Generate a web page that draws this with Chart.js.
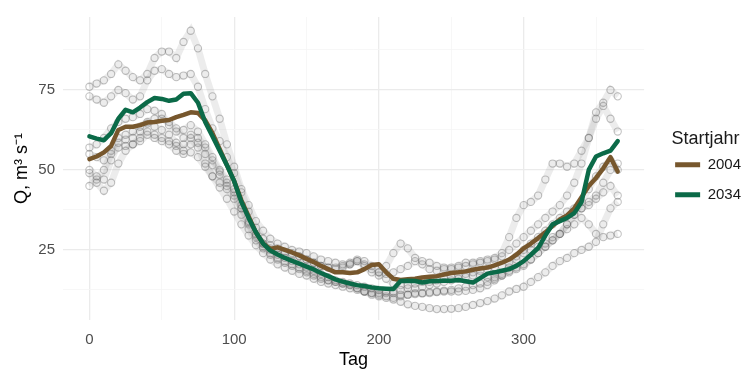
<!DOCTYPE html>
<html><head><meta charset="utf-8">
<script src="https://cdn.jsdelivr.net/npm/chart.js@4"></script>
<style>html,body{margin:0;padding:0;background:#fff}</style>
</head><body>
<canvas id="c" width="745" height="371"></canvas>
<script>
// Day of year (x), every 5 days
const days = [0,5,10,15,20,25,30,35,40,45,50,55,60,65,70,75,80,85,90,95,100,105,110,115,120,125,130,135,140,145,150,155,160,165,170,175,180,185,190,195,200,205,210,215,220,225,230,235,240,245,250,255,260,265,270,275,280,285,290,295,300,305,310,315,320,325,330,335,340,345,350,355,360,365];

// Mean discharge per start year (m³ s⁻¹)
const q2004 = [53.4,54.2,55.5,57.5,62.5,63.5,63.5,64,64.8,65,
  65.4,65.6,66.5,67.2,68,67.8,65.5,61.5,56.5,51.5,
  46.5,40.5,35.5,30.5,27,25.3,25.8,25,24.2,23.3,
  22.2,21.2,20,19,18,18,17.8,18,19,20.3,
  20.5,18,16,15.6,15.8,16,16.4,16.6,16.8,17.3,
  17.8,18,18.3,18.8,19.2,19.5,20.2,21,22,23.5,
  25.5,27,28.7,30.5,32.5,34.5,35.8,38,41.5,45,
  47.5,50.5,54,49.5];
const q2034 = [60.5,59.8,59.3,61.5,66,68.8,68,69.5,71.2,72.5,
  72.2,71.6,72,73.8,74,71,65,60.5,56,51.5,
  46.5,40,35,30.5,27,24.8,23.6,22.5,21.6,20.7,
  19.8,18.9,17.8,16.8,15.8,15.1,14.5,14,13.7,13.3,
  13,12.9,12.8,15.3,15.4,15.3,14.8,15.2,15.3,15.4,
  15.4,15.6,15.2,14.8,16.2,17.6,18,18.5,19,20,
  21.5,23.5,25.6,29.5,33,34,35,36.5,40,50,
  54.2,55.2,56,59];

// Individual ensemble members (grey circles)
const memberA = [76,77,78,80,83,81,79,78,80,85,
  87,87,85,90,93.5,88,80,73,66,58,
  51,44,39,34,31,28.5,27,26,25,24.5,
  24,23,22,21.5,21,20.5,20.5,21.5,20.5,19,
  18,20,24,27,25.5,22.5,21.5,21,20,19.5,
  19,19.5,20,20.5,21,21.5,22,23,25,27,
  29,31,33,35,37,39,42,46,52,60,
  68,71,75,73];
const memberB = [73,72,71,73,75,74,72,73,78,81,
  81.5,80,79,79.5,80,76,69,63,59,54,
  49,43,37,32,28.5,26.5,25.5,24.5,24,23,
  22,21,20,19.5,19.5,20,21,21.5,20,18,
  17,17.5,18,19,20,21.5,20.5,19,18.5,19,
  19.5,20,21,21,21.5,22,22.5,24,29,35,
  39,40,42,47,52,52,51,52,56,60,
  66,70,66,62];
const memberC = [57,58,60,63,65,66,66.5,67.5,69,68.5,
  67.5,64,62,62.5,64,62,58,54,50,47,
  44,39,34,30,27,25,23.5,22.5,21.5,20.5,
  19.5,18.5,17.5,16.5,15.5,15,14.5,14,13.5,13,
  12.5,12,11.5,11,11,11.2,11.4,11.5,11.8,12,
  12,12,12.2,12.5,13,14,15.5,17,18.5,19.5,
  20.5,22,24,26,28,30,33,36,38,40,
  42,46,50,52];
const memberD = [50,48,47,53,58.5,59.5,60,62,64.5,63.5,
  62.5,61,58.5,56,58,58.5,55,51.5,48.5,45,
  41,36,31.5,28,25.5,23.5,22,21,20,19,
  18,17,16,15.5,15,14.5,14,13,12,11,
  10.5,10,9.5,8.8,8,7.5,7.2,6.8,6.5,6.5,
  6.6,6.8,7.2,7.8,8.4,9,9.8,10.8,12,12.8,
  13.5,15,16.5,18,20,21.5,22.5,24,25,26,
  27.5,33,38,40];
const memberE = [49,46,43.5,46,52,56,58,59,61,60,
  59,58,56,55,55.5,54,51,48,44.5,41,
  37,33,29.5,26.5,24,22,20.5,19.5,18.5,17.5,
  17,16,15,14.5,14,13.5,13,12.5,12,11.5,
  11.5,11.5,12,12.5,13,13,13.5,14,14.5,15,
  15.5,16,16.5,17,17,16.5,16.5,17.5,19.5,22,
  24,25,26,27,29,30,31.5,33,35,33,
  30,29,29.5,30];
const memberF = [55,54,53,56,60,61,62,63.5,65,66,
  66,65,63,60,61,60,57,53,49.5,46,
  43,38,33,29,26,24,22.5,21.5,20.5,19.5,
  18.5,17.5,16.5,15.5,15,14.5,14,13,12,11.5,
  11,10.5,10,10.5,11,11.5,11.5,11.8,12,12.3,
  12.5,13,13.5,14,14.5,15,16,17,18,19,
  20,22,24,26,28,30,33,36,40,44,
  48,51,53,50];
const memberG = [45,47,50,55,57,57.5,58,60,62,61,
  60,59,57.5,58,60,57,52,48,46,44,
  42,38,33.5,29.5,27,25.5,24.5,24,23.5,23,
  22,21,20,19.5,19,19.5,20.5,22,21.5,20,
  18,16,14.5,14,14,14.5,15,15,15.5,16,
  16.5,17,17.5,18,18.5,19,19.5,20,21,23,
  25,27,29,31,33,35,37,38,38,39,
  41,43,45,42];

const xTicks = [0,50,100,150,200,250,300,350];
const xLabelled = [0,100,200,300];
const yTicks = [12.5,25,37.5,50,62.5,75,87.5];
const yLabelled = [25,50,75];

const members = [memberA,memberB,memberC,memberD,memberE,memberF,memberG];

Chart.defaults.font.family = "'Liberation Sans', Arial, Helvetica, sans-serif";

const toXY = arr => days.map((d,i)=>({x:d, y:arr[i]}));

const datasets = [
  {label:'2004', data:toXY(q2004), borderColor:'#77572d', backgroundColor:'#77572d',
   borderWidth:4.5, pointRadius:0, tension:0, order:1, borderJoinStyle:'round', borderCapStyle:'round'},
  {label:'2034', data:toXY(q2034), borderColor:'#0b6a48', backgroundColor:'#0b6a48',
   borderWidth:4.5, pointRadius:0, tension:0, order:0, borderJoinStyle:'round', borderCapStyle:'round'}
];
members.forEach((m,k)=>{
  datasets.push({label:'m'+k, data:toXY(m), showLine:true,
    borderColor:'rgba(140,140,140,0.17)', borderWidth:7, tension:0,
    pointRadius:3.6, pointBorderWidth:1.1, pointBorderColor:'rgba(90,90,90,0.36)',
    pointBackgroundColor:'rgba(255,255,255,0)', order:2});
});

const legendShift = {id:'legendShift', afterLayout(chart){
  const l = chart.legend; if(!l) return;
  l.left += 16; l.right += 16; l.top += 5; l.bottom += 5;
}};

new Chart(document.getElementById('c'), {
  type:'line',
  data:{datasets},
  options:{
    responsive:false, animation:false, devicePixelRatio:1,
    layout:{padding:{top:13,right:10,bottom:0,left:0}},
    plugins:{
      tooltip:{enabled:false},
      legend:{
        display:true, position:'right', align:'center', fullSize:false,
        title:{display:true, text:'Startjahr', position:'center', color:'#1a1a1a',
               font:{size:18, lineHeight:1}, padding:{top:0,bottom:-5.5}},
        labels:{boxWidth:25, boxHeight:5, padding:15, color:'#1a1a1a', font:{size:15},
          generateLabels(chart){
            const items = Chart.defaults.plugins.legend.labels.generateLabels(chart);
            items.forEach(i=>{ i.lineWidth = 0; });
            return items;
          },
          filter:(item)=> item.datasetIndex < 2,
          sort:(a,b)=> a.datasetIndex - b.datasetIndex
        }
      }
    },
    scales:{
      x:{type:'linear', min:-18.25, max:383.25,
        afterBuildTicks:s=>{ s.ticks = xTicks.map(v=>({value:v})); },
        afterFit:s=>{ s.height = 51; },
        ticks:{autoSkip:false, maxRotation:0, padding:11, color:'#4d4d4d', font:{size:15},
          callback:v=> xLabelled.includes(v) ? String(v) : ''},
        grid:{drawTicks:false, color:c=> xLabelled.includes(c.tick.value)?'#ebebeb':'#f5f5f5',
          lineWidth:c=> xLabelled.includes(c.tick.value)?1.3:0.8},
        border:{display:false},
        title:{display:true, text:'Tag', color:'#000', font:{size:18}, padding:{top:0,bottom:0}}
      },
      y:{type:'linear', min:3.1, max:97.8,
        afterBuildTicks:s=>{ s.ticks = yTicks.map(v=>({value:v})); },
        afterFit:s=>{ s.width = 63; },
        ticks:{autoSkip:false, padding:8, color:'#4d4d4d', font:{size:15},
          callback:v=> yLabelled.includes(v) ? String(v) : ''},
        grid:{drawTicks:false, color:c=> yLabelled.includes(c.tick.value)?'#ebebeb':'#f5f5f5',
          lineWidth:c=> yLabelled.includes(c.tick.value)?1.3:0.8},
        border:{display:false},
        title:{display:true, text:'Q, m³ s⁻¹', color:'#000', font:{size:18}, padding:{top:11,bottom:0}}
      }
    }
  },
  plugins:[legendShift]
});
</script>
</body></html>
